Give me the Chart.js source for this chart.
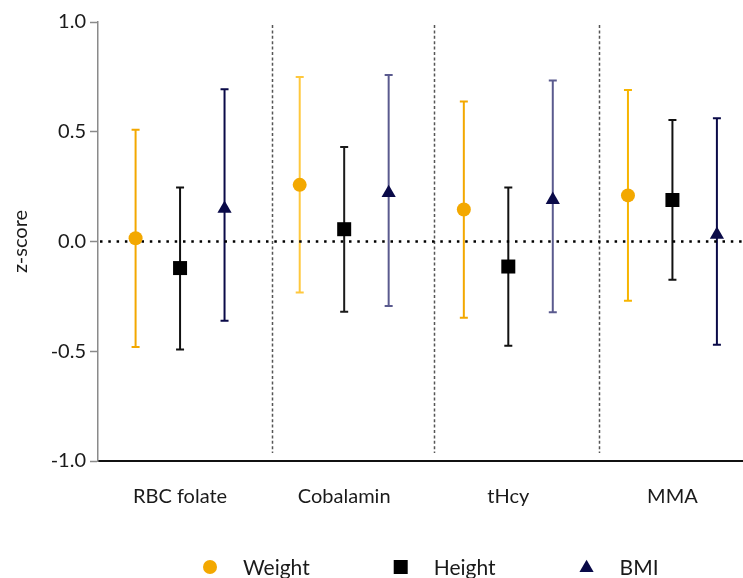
<!DOCTYPE html>
<html><head><meta charset="utf-8">
<script src="https://cdn.jsdelivr.net/npm/chart.js@4/dist/chart.umd.min.js"></script>
<style>html,body{margin:0;padding:0;background:#fff}#wrap{width:743px;height:578px;position:relative}</style>
</head><body><div id="wrap"><canvas id="c" width="743" height="578"></canvas></div>
<script>
// ---- data ----
const categories = ['RBC folate', 'Cobalamin', 'tHcy', 'MMA'];
const seriesNames = ['Weight', 'Height', 'BMI'];
const yTickValues = [-1.0, -0.5, 0.0, 0.5, 1.0];
const weightZ    = [0.015, 0.258, 0.146, 0.210];
const weightLow  = [-0.481, -0.232, -0.347, -0.270];
const weightHigh = [0.509, 0.750, 0.638, 0.690];
const heightZ    = [-0.121, 0.056, -0.114, 0.189];
const heightLow  = [-0.492, -0.320, -0.475, -0.174];
const heightHigh = [0.246, 0.430, 0.246, 0.554];
const bmiZ       = [0.150, 0.221, 0.190, 0.031];
const bmiLow     = [-0.361, -0.294, -0.322, -0.470];
const bmiHigh    = [0.694, 0.759, 0.733, 0.562];
const groupDividers = [1.06, 2.05, 3.05];

// ---- styling / layout ----
const FONT = 'Lato, "Open Sans", sans-serif';
const TEXT = '#1a1a1a';
const seriesOffset = [-0.271, 0, 0.271];
const catX = categories.map((c, i) => i + 0.5);

function pts(vals, s) { return vals.map((v, i) => ({ x: catX[i] + seriesOffset[s], y: v })); }

const datasets = [
  { label: seriesNames[0], data: pts(weightZ, 0), low: weightLow, high: weightHigh,
    pointStyle: 'circle', pointRadius: 7, pointHoverRadius: 7, backgroundColor: '#F3A800', borderWidth: 0,
    whiskerColors: ['#F3A800', '#FFC83D', '#F3A800', '#F7B500'], whiskerWidth: 2 },
  { label: seriesNames[1], data: pts(heightZ, 1), low: heightLow, high: heightHigh,
    pointStyle: 'rect', pointRadius: 9.9, pointHoverRadius: 9.9, backgroundColor: '#000000', borderWidth: 0,
    whiskerColors: ['#111', '#1a1a1a', '#111', '#111'], whiskerWidth: 2 },
  { label: seriesNames[2], data: pts(bmiZ, 2), low: bmiLow, high: bmiHigh,
    pointStyle: 'triangle', pointRadius: 8.2, pointHoverRadius: 8.2, backgroundColor: '#0A0A48', borderWidth: 0,
    whiskerColors: ['#0A0A48', '#5A5A8E', '#5A5A8E', '#0A0A48'], whiskerWidth: 2 }
];

const backgroundLines = {
  id: 'backgroundLines',
  beforeDatasetsDraw(chart) {
    const { ctx, chartArea: a, scales: { x, y } } = chart;
    ctx.save();
    // group dividers
    ctx.strokeStyle = '#555';
    ctx.lineWidth = 1.5;
    ctx.setLineDash([3, 2.4]);
    groupDividers.forEach(v => {
      const px = Math.round(x.getPixelForValue(v)) + 0.5;
      ctx.beginPath(); ctx.moveTo(px, a.top + 3); ctx.lineTo(px, a.bottom - 8); ctx.stroke();
    });
    ctx.setLineDash([]);
    // error bars
    chart.data.datasets.forEach(ds => {
      ds.data.forEach((p, i) => {
        const px = x.getPixelForValue(p.x);
        const yl = y.getPixelForValue(ds.low[i]);
        const yh = y.getPixelForValue(ds.high[i]);
        ctx.strokeStyle = ds.whiskerColors[i];
        ctx.lineWidth = ds.whiskerWidth;
        ctx.beginPath(); ctx.moveTo(px, yl); ctx.lineTo(px, yh); ctx.stroke();
        ctx.beginPath();
        ctx.moveTo(px - 4, yl); ctx.lineTo(px + 4, yl);
        ctx.moveTo(px - 4, yh); ctx.lineTo(px + 4, yh);
        ctx.stroke();
      });
    });
    // zero reference line
    const y0 = y.getPixelForValue(0);
    ctx.strokeStyle = '#000';
    ctx.lineWidth = 2.5;
    ctx.setLineDash([2.5, 5.8]);
    ctx.beginPath(); ctx.moveTo(a.left + 2, y0); ctx.lineTo(a.right, y0); ctx.stroke();
    ctx.restore();
  }
};

function drawMarker(ctx, style, cx, cy, color) {
  ctx.fillStyle = color;
  ctx.beginPath();
  if (style === 'circle') { ctx.arc(cx, cy, 7, 0, Math.PI * 2); }
  else if (style === 'rect') { ctx.rect(cx - 7, cy - 7, 14, 14); }
  else { const r = 8.2; ctx.moveTo(cx, cy - r); ctx.lineTo(cx + r * 0.866, cy + r / 2); ctx.lineTo(cx - r * 0.866, cy + r / 2); ctx.closePath(); }
  ctx.fill();
}

const customLegend = {
  id: 'customLegend',
  afterDraw(chart) {
    const ctx = chart.ctx;
    ctx.save();
    ctx.font = '21px ' + FONT;
    ctx.textBaseline = 'middle';
    ctx.textAlign = 'left';
    let cx = 210;
    const cy = 567;
    chart.data.datasets.forEach(ds => {
      drawMarker(ctx, ds.pointStyle, cx, ds.pointStyle === 'triangle' ? cy + 1 : cy, ds.backgroundColor);
      ctx.fillStyle = TEXT;
      const tx = cx + 33;
      ctx.fillText(ds.label, tx, cy + 1);
      cx = tx + ctx.measureText(ds.label).width + 91;
    });
    ctx.restore();
  }
};

new Chart(document.getElementById('c'), {
  type: 'scatter',
  data: { datasets },
  options: {
    responsive: false,
    animation: false,
    layout: { autoPadding: false, padding: { top: 22, right: 0, bottom: 0, left: 0 } },
    plugins: { legend: { display: false }, tooltip: { enabled: false } },
    scales: {
      x: {
        type: 'linear', min: 0, max: 3.93,
        afterBuildTicks: s => { s.ticks = catX.map(v => ({ value: v })); },
        afterFit: s => { s.height = 117; },
        grid: { display: false },
        border: { display: true, color: '#111', width: 2 },
        ticks: {
          padding: 16, color: TEXT, font: { family: FONT, size: 20 }, maxRotation: 0,
          callback: (v, i) => categories[i]
        }
      },
      y: {
        min: -1, max: 1,
        afterBuildTicks: s => { s.ticks = yTickValues.map(v => ({ value: v })); },
        afterFit: s => { s.width = 98; },
        grid: { display: true, drawOnChartArea: false, drawTicks: true, tickLength: 8, tickColor: '#8a8a8a', tickWidth: 1.5 },
        border: { display: true, color: '#8a8a8a', width: 1.5 },
        ticks: { padding: 4, color: TEXT, font: { family: FONT, size: 20 }, callback: v => v.toFixed(1) },
        title: { display: true, text: 'z-score', color: TEXT, font: { family: FONT, size: 20 }, padding: { top: 9, bottom: 0 } }
      }
    }
  },
  plugins: [backgroundLines, customLegend]
});
</script></body></html>
